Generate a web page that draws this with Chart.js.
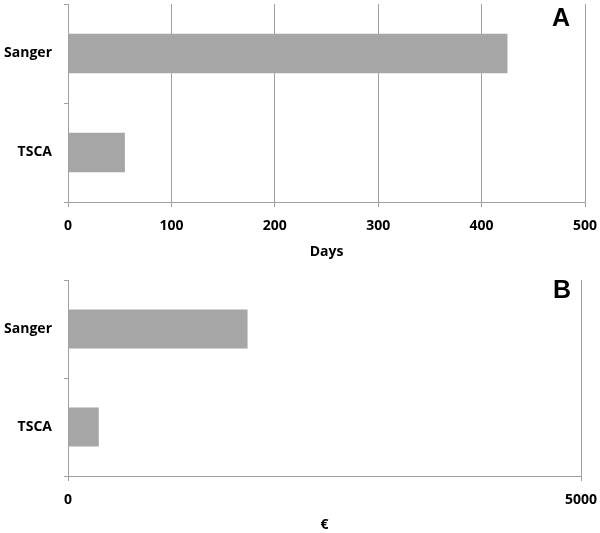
<!DOCTYPE html>
<html>
<head>
<meta charset="utf-8">
<style>
  body { margin: 0; background: #fff; }
  #wrap { position: relative; width: 600px; height: 533px; }
  .panel { position: absolute; left: 0; width: 600px; height: 265px; }
  .tag { position: absolute; font: bold 25px "Liberation Sans", Arial, sans-serif; line-height: 25px; color: #000; }
</style>
</head>
<body>
<div id="wrap">
  <div class="panel" style="top:0"><canvas id="chartDays"></canvas></div>
  <div class="panel" style="top:268px"><canvas id="chartCost"></canvas></div>
  <div class="tag" style="left:552px; top:5px">A</div>
  <div class="tag" style="left:553px; top:277px">B</div>
</div>

<script src="https://cdn.jsdelivr.net/npm/chart.js"></script>
<script>
  // data
  const methods = ['Sanger', 'TSCA']
  const days = [425, 55]
  const euros = [1750, 300]

  const gray = '#a0a0a0'
  const barColor = '#a6a6a6'
  const tickFont = { family: 'Open Sans', size: 14, weight: 'bold' }

  Chart.defaults.font.family = 'Open Sans'
  Chart.defaults.color = '#000'

  function makeChart(id, values, xMax, step, title, pad, axisHeight, titlePad) {
    const ctx = document.getElementById(id)
    return new Chart(ctx, {
      type: 'bar',
      data: {
        labels: methods,
        datasets: [{
          data: values,
          backgroundColor: barColor,
          borderWidth: 0,
          barPercentage: 0.4,
          categoryPercentage: 1.0
        }]
      },
      options: {
        indexAxis: 'y',
        responsive: true,
        maintainAspectRatio: false,
        animation: false,
        layout: { padding: pad },
        plugins: { legend: { display: false }, tooltip: { enabled: false } },
        scales: {
          x: {
            min: 0,
            max: xMax,
            ticks: { stepSize: step, font: tickFont, padding: 11, callback: (v) => String(v) },
            grid: { color: gray, tickLength: 5 },
            border: { color: gray },
            title: { display: true, text: title, font: tickFont, padding: titlePad },
            afterFit: (scale) => {
              scale.height = axisHeight
              scale.paddingLeft = 0
              scale.paddingRight = 0
            }
          },
          y: {
            ticks: { font: tickFont, padding: 12 },
            grid: { drawOnChartArea: false, color: gray, tickLength: 4 },
            border: { color: gray },
            afterFit: (scale) => {
              scale.width = 68
              scale.paddingTop = 0
              scale.paddingBottom = 0
            }
          }
        }
      }
    })
  }

  makeChart('chartDays', days, 500, 100, 'Days',
    { top: 4, right: 15, left: 0, bottom: 0 }, 63, { top: 0, bottom: 5 })

  makeChart('chartCost', euros, 5000, 5000, '€',
    { top: 12, right: 19, left: 0, bottom: 0 }, 57, { top: 0, bottom: 0 })
</script>
</body>
</html>
